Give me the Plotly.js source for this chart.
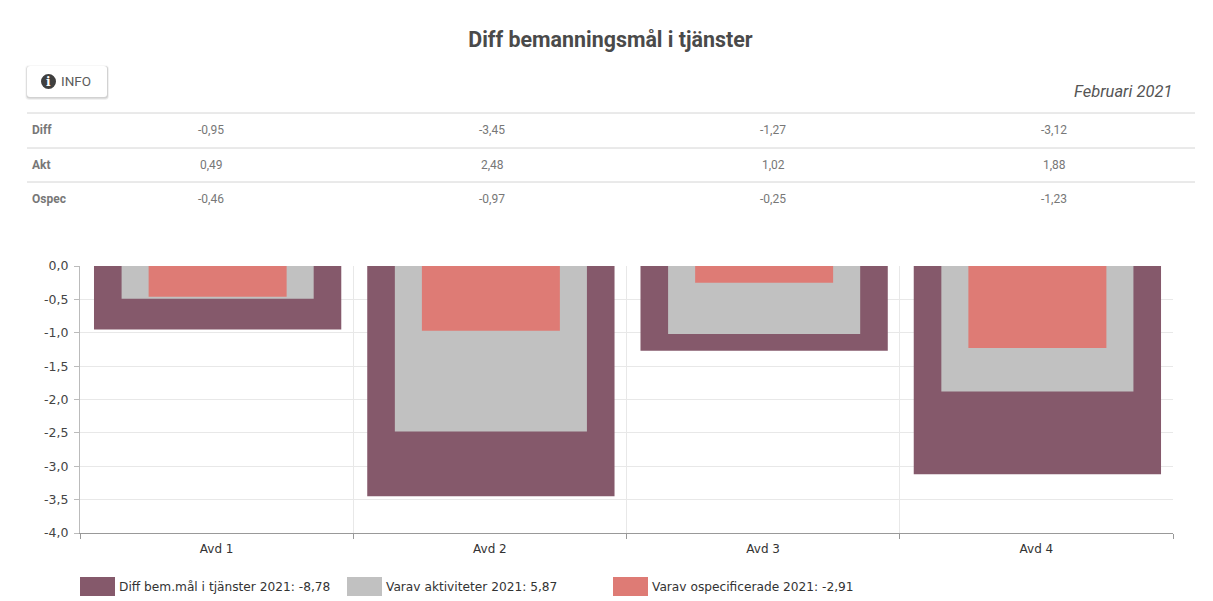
<!DOCTYPE html>
<html>
<head>
<meta charset="utf-8">
<script src="https://cdn.plot.ly/plotly-3.0.1.min.js"></script>
<style>html,body{margin:0;padding:0;background:#fff}</style>
</head>
<body>
<div id="chart"></div>
<script>
const categories = ['Avd 1', 'Avd 2', 'Avd 3', 'Avd 4'];
const diffValues = [-0.95, -3.45, -1.27, -3.12];
const aktValues = [0.49, 2.48, 1.02, 1.88];
const ospecValues = [-0.46, -0.97, -0.25, -1.23];
const rowLabels = ['Diff', 'Akt', 'Ospec'];
const seriesNames = ['Diff bem.mål i tjänster 2021: -8,78', 'Varav aktiviteter 2021: 5,87', 'Varav ospecificerade 2021: -2,91'];
const seriesColors = ['#85596b', '#c1c1c1', '#de7b75'];
const yTickValues = [0, -0.5, -1, -1.5, -2, -2.5, -3, -3.5, -4];
const yTickLabels = ['0,0', '-0,5', '-1,0', '-1,5', '-2,0', '-2,5', '-3,0', '-3,5', '-4,0'];
const chartTitle = 'Diff bemanningsmål i tjänster';
const periodLabel = 'Februari 2021';

const W = 1213, H = 601, L = 80, R = 1173, T = 266, B = 533;
const px = x => (x - L) / (R - L);
const py = y => (B - y) / (B - T);
const fmt = v => v.toFixed(2).replace('.', ',');

function text(x, y, str, opts) {
  const o = opts || {};
  return {
    xref: 'paper', yref: 'paper', x: px(x), y: py(y), text: str, showarrow: false,
    xanchor: o.anchor || 'center', yanchor: 'middle', borderpad: 0,
    font: {family: o.family || 'Roboto', size: o.size || 12, color: o.color || '#666'}
  };
}
function rect(x0, y0, x1, y1, fill) {
  return {
    type: 'rect', xref: 'paper', yref: 'paper', layer: 'above',
    x0: px(x0), x1: px(x1), y0: py(y0), y1: py(y1),
    fillcolor: fill, line: {width: 0}
  };
}
function roundRect(x0, y0, x1, y1, r, fill) {
  const p = (x, y) => px(x) + ',' + py(y);
  const path = 'M' + p(x0 + r, y0) + ' L' + p(x1 - r, y0) + ' Q' + p(x1, y0) + ' ' + p(x1, y0 + r) +
    ' L' + p(x1, y1 - r) + ' Q' + p(x1, y1) + ' ' + p(x1 - r, y1) +
    ' L' + p(x0 + r, y1) + ' Q' + p(x0, y1) + ' ' + p(x0, y1 - r) +
    ' L' + p(x0, y0 + r) + ' Q' + p(x0, y0) + ' ' + p(x0 + r, y0) + ' Z';
  return {type: 'path', xref: 'paper', yref: 'paper', layer: 'above', path: path, fillcolor: fill, line: {width: 0}};
}

const annotations = [];
const shapes = [];

// Info button
shapes.push(roundRect(25, 65, 109, 100, 4, 'rgba(0,0,0,0.03)'));
shapes.push(roundRect(26, 66, 108.5, 99.5, 3, 'rgba(0,0,0,0.05)'));
shapes.push(roundRect(26.5, 66, 108, 98.5, 3, 'rgba(0,0,0,0.10)'));
shapes.push(roundRect(27, 66, 107, 97, 3, '#ffffff'));
shapes.push({type: 'circle', xref: 'paper', yref: 'paper', layer: 'above',
  x0: px(41), x1: px(56), y0: py(74), y1: py(89), fillcolor: '#3f3f3f', line: {width: 0}});
annotations.push(text(48.5, 81.5, '<b>i</b>', {size: 12, color: '#ffffff', family: 'DejaVu Serif'}));
annotations.push(text(59.5, 81, 'INFO', {anchor: 'left', size: 13.5, color: '#5c5c5c'}));
annotations.push(text(1172.5, 91, '<i>' + periodLabel + '</i>', {anchor: 'right', size: 16.5, color: '#555'}));

// Summary table
const rowY = [130, 164.5, 198.5];
const lineY = [113, 148, 182];
const colX = [211, 492, 773, 1054];
const rows = [diffValues, aktValues, ospecValues];
lineY.forEach(y => shapes.push({type: 'line', xref: 'paper', yref: 'paper', layer: 'above',
  x0: px(27), x1: px(1195), y0: py(y), y1: py(y), line: {color: '#d4d4d4', width: 1}}));
rows.forEach((row, i) => {
  annotations.push(text(30.5, rowY[i], '<b>' + rowLabels[i] + '</b>', {anchor: 'left', size: 12, color: '#777'}));
  row.forEach((v, j) => annotations.push(text(colX[j], rowY[i], fmt(v), {size: 12, color: '#777'})));
});

// Legend
const legendX = [80, 347, 613];
seriesNames.forEach((name, i) => {
  shapes.push(rect(legendX[i], 577, legendX[i] + 35, 596, seriesColors[i]));
  annotations.push(text(legendX[i] + 38, 587, name, {anchor: 'left', family: 'DejaVu Sans', size: 12.2, color: '#333'}));
});

const widths = [0.905, 0.703, 0.505];
const nudge = 0.0037;
const series = [diffValues, aktValues.map(v => -v), ospecValues];
const traces = series.map((vals, i) => ({
  type: 'bar', x: categories, y: vals, name: seriesNames[i],
  width: categories.map(() => widths[i]),
  offset: categories.map(() => -widths[i] / 2 + nudge),
  marker: {color: seriesColors[i], line: {width: 0}}
}));

const layout = {
  width: W, height: H,
  margin: {l: L, r: W - R, t: T, b: H - B, pad: 0},
  paper_bgcolor: '#fff', plot_bgcolor: '#fff',
  barmode: 'overlay', showlegend: false,
  title: {text: '<b>' + chartTitle + '</b>', x: 610.5 / W, xanchor: 'center', y: 1 - 40 / H, yanchor: 'middle',
    font: {family: 'Roboto', size: 21.4, color: '#4a4a4a'}},
  xaxis: {
    type: 'category', range: [-0.5, 3.5], tickson: 'boundaries', ticks: 'outside', ticklen: 5,
    tickcolor: '#999', showgrid: true, gridcolor: '#e8e8e8', gridwidth: 1, zeroline: false,
    showline: true, linecolor: '#999', linewidth: 1, ticklabelstandoff: 5,
    tickfont: {family: 'DejaVu Sans', size: 12, color: '#333'}
  },
  yaxis: {
    range: [-4, 0], tickmode: 'array', tickvals: yTickValues, ticktext: yTickLabels,
    ticks: 'outside', ticklen: 5, ticklabelstandoff: 3,
    tickcolor: '#bbb', showgrid: true, gridcolor: '#e8e8e8', gridwidth: 1, zeroline: false,
    showline: true, linecolor: '#bbb', linewidth: 1,
    tickfont: {family: 'DejaVu Sans', size: 12.5, color: '#444'}
  },
  annotations: annotations,
  shapes: shapes
};
Plotly.newPlot('chart', traces, layout, {displayModeBar: false});
</script>
</body>
</html>
